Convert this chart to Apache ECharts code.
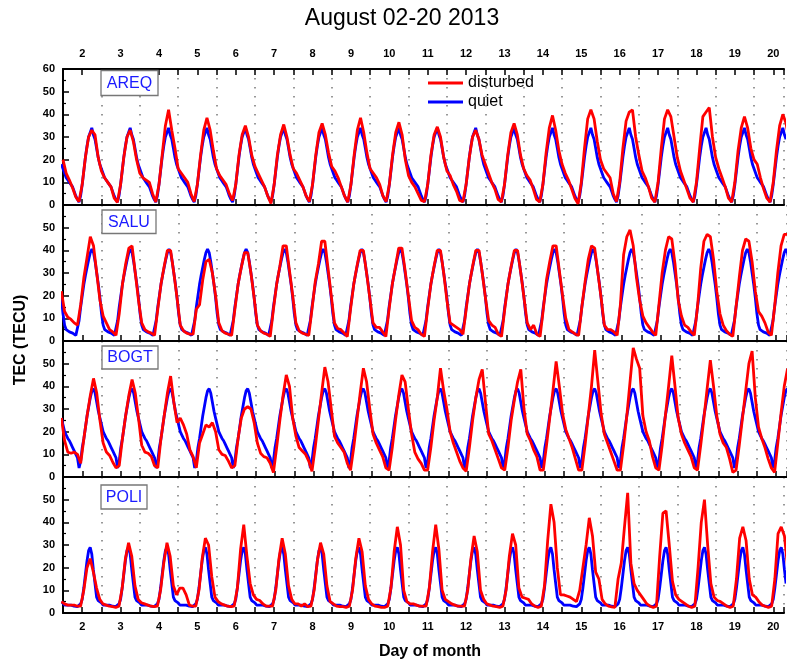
<!DOCTYPE html>
<html><head><meta charset="utf-8">
<script src="https://cdn.jsdelivr.net/npm/echarts@6/dist/echarts.min.js"></script>
<style>html,body{margin:0;padding:0;background:#fff}#c{width:787px;height:663px}</style>
</head><body><div id="c"></div>
<script>
// ---------------- data ----------------
const stations = ['AREQ', 'SALU', 'BOGT', 'POLI'];
const dayLabels = [2,3,4,5,6,7,8,9,10,11,12,13,14,15,16,17,18,19,20];
const tecLabels = [0,10,20,30,40,50,60];

// quiet reference: mean quiet-day TEC profile (hourly, 00..23 UT), repeated every day in the figure
const AREQ_QUIET = [9,15,21,26,30,32,34,31,29,25,21,18,16,14,12,11,10,9,8,6,4,2.5,1.3,4];
const SALU_QUIET = [20,25,29,32.5,36,39,40.5,39,35,30,25,19,12,7,5,4.5,4,3.5,3.5,3,2.5,3,9,15];
const BOGT_QUIET = [13,17,22,27,31,35,38,39,37,33,29,26,23,20,18.5,17,16,14.5,13,11.5,10,8.5,4,7];
const POLI_QUIET = [6,11,17,23,27.5,29,26,19,13,7,5.5,5,4.5,3.5,4,3.5,4,3.5,3,3,2.8,2.8,3,4];

// disturbed TEC, every 2 hours; first sample hour counted from 00 UT Aug 1
const AREQ_START_HOUR = 12;
const AREQ_DIST = [
 20,14,11,7.5,3.5,1.5,
 9,21,30,33,31,21,15,12,10,8,3,1.2,
 9,21,30,33,28,20,14,12,11,10,5,1.3,
 9,22,35,42,33,25,16,14,12,10,5,1.5,
 9,22,33,38.5,33,24,16,13,11,9,5,2,
 9,22,31,35,30,22,17,14,11,8,4,0.7,
 9,22,31,35.5,30,22,16,14,11,8,4,1.5,
 9,22,32,36,31,23,17,15,12,8,4,1.3,
 9,22,33,38.5,32,23,16,14,12,9,4,1.5,
 9,22,32,36.5,31,20,13,10,8,5,2,1.5,
 9,22,31,34.5,30,21,15,13,9,6,2,1.5,
 9,21,30,33,29,22,18,14,10,7,2.5,1.3,
 9,22,32,36,31,22,16,13,11,7,2.5,1.3,
 9,23,34,39.5,33,24,18,14,11,7,3,0.5,
 10,25,38,42,38,28,20,16,14,12,5,1.5,
 10,25,37,41,42,30,22,15,12,8,3,1.3,
 10,25,38,42,39,30,21,15,11,7,3,1.3,
 10,25,39,41,43,30,21,16,12,8,3,1.3,
 10,24,34,39,34,25,20,18,12,7,3,1.3,
 10,24,35,40,36,28
];
const SALU_START_HOUR = 11;
const SALU_DIST = [
 22,13,10.5,9.5,8,7,16,
 28,37,46,42,30,18,11,8,5,4,2.5,12,
 25,34,41,42,30,18,8,5,4,3.5,2.5,14,
 25,33,40,40,30,19,7,4.5,3.5,3,3,14,
 16,27,35,36,30,20,8,4.5,3.5,3,2.5,14,
 25,32.5,39,39,30,19,7,4.5,3.5,3,2,14,
 25,33,42,42,31,20,8,4.5,3.5,3,2.5,14,
 26,34,44,44,32,20,8,5.5,5,3.5,2,14,
 25,33,40,40,30,19,8,6,6,4,2,14,
 25,33,41,41,31,20,9,6,5,3,2,14,
 25,33,40,40,30,18,8,7,6,5,3,14,
 25,33,40,40,30,19,9,7,6,3,2,14,
 25,33,40,40,30,19,8,5,7,3,2,14,
 27,35,42,42,31,20,10,5,4,3,2.5,15,
 26,36,42,41,30,19,7,5,5,4,2.5,16,
 38,46,49,42,28,18,11,8,6,4,2.5,16,
 30,40,46,45,34,18,11,7,6,4,2.5,15,
 32,44,47,46,36,22,12,7,4.5,3,2,15,
 28,40,45,44,35,22,13,11,8,4,2.5,15,
 30,42,47,47,44
];
const BOGT_START_HOUR = 11;
const BOGT_DIST = [
 26,16,11,10.5,11,10,6,
 17,27,36,43.5,37,25,15,11,9.5,6.5,4,5,
 17,27,36,43,37,26,14,11,10.5,9,5,4,
 17,27,37,44.5,33,24,26,23,19,12,9,4,
 15,19,23,22,24,20,12,10,9.5,7,4,5,
 17,26,30,31,30,24,15,10.5,9,8.5,6,2,
 13,25,36,45,40,26,18,13,11.5,10,7,2.5,
 13,25,37,48.5,42,30,18,15,13,11,6,3,
 13,25,37,48,42,30,19,15,12,9,4,3,
 13,25,36,45,42,30,19,11,8,6,3,3,
 13,25,35,48,38,30,20,15,11,7,4,2.5,
 13,25,35,43,47.5,33,19,16,12,8,4,3,
 13,25,34,42,47.5,30,19,16,12,9,3,3,
 14,26,38,51,40,28,21,17,13,8,3,3,
 14,27,40,56,42,28,19,15,11,7,3,3,
 14,27,42,57,52,48,27,20,16,9,4,3,
 14,27,40,53.5,40,26,19,15,12,9,4,3,
 14,26,39,51.5,40,27,19,15,13,8,2,3,
 14,26,38,50,55.5,35,22,17,13,8,4,2,
 15,28,40,47.5,48
];
const POLI_START_HOUR = 11;
const POLI_DIST = [
 5,4,3.5,3.5,3.5,3,3,
 10,20,24,18,11,6,4,3.5,3,2.8,2.5,3,
 11,24,31,25,12,6,4.5,4,3.5,3,2.8,3,
 10,22,31,25,12,8,11,11,8,3.5,3,3,
 10,24,33,30,16,7,5,4,3.5,3,2.8,3,
 11,28,39,25,13,8,6,5.5,4,3,3,3,
 10,24,33,26,12,6,4,4,3,4,2.8,3,
 10,23,31,26,12,5,4,3,2.8,2.8,2.5,3,
 10,24,33,27,12,6,4,3,2.8,2.5,2.5,3,
 11,27,38,30,10,5,4,4,3.5,3,3,3,
 11,27,39,28,10,6,5,4,3.5,3,3,3,
 10,24,34,27,10,6,4,3.5,3,2.8,2.5,3,
 10,25,35,30,11,7,6.5,6,4,3,2.5,3,
 12,32,48,40,20,8,8,7.5,7,6,5,10,
 20,30,42,34,18,15,6,4,3,2.7,2.5,15,
 22,38,53,22,13,10,8,6,4,3,2.5,3,
 25,44,45,30,14,8,6,5,4,3,2.5,3,
 20,40,50,30,13,7,5.5,5,4,3,2.5,3,
 15,33,38,32,15,8,7,5,3.5,3,2.5,3,
 15,35,38,34,20
];

const QUIET = [AREQ_QUIET, SALU_QUIET, BOGT_QUIET, POLI_QUIET];
const DIST = [AREQ_DIST, SALU_DIST, BOGT_DIST, POLI_DIST];
const START = [AREQ_START_HOUR, SALU_START_HOUR, BOGT_START_HOUR, POLI_START_HOUR];

// ---------------- chart ----------------
const FONT = '"Liberation Sans", Arial, Helvetica, sans-serif';
const X_MIN = 1.5, X_MAX = 20.28;
const tops = [69, 205, 341, 477];
const PANEL_H = 136;

function quietPoints(profile) {
  const pts = [];
  for (let d = 1; d <= 20; d++) {
    for (let h = 0; h < 24; h++) {
      const x = d + h / 24;
      if (x >= 1.45 && x <= 20.35) pts.push([x, profile[h]]);
    }
  }
  return pts;
}
function distPoints(arr, startHour) {
  return arr.map((v, i) => [1 + (startHour + 2 * i) / 24, v]);
}
const isDayLabel = v => dayLabels.indexOf(Math.round(v * 1000) / 1000) >= 0;

const grid = tops.map(t => ({ left: 63, right: 0, top: t, height: PANEL_H }));
const xAxis = [];
const yAxis = [];
const series = [];
const axisLineStyle = { color: '#000', width: 2 };

stations.forEach((s, i) => {
  xAxis.push({
    gridIndex: i, type: 'value', position: 'bottom', min: X_MIN, max: X_MAX, interval: 0.5,
    axisLine: { show: true, onZero: false, lineStyle: axisLineStyle },
    axisTick: { show: true, inside: true, length: 6, lineStyle: { color: '#000', width: 1.5 } },
    axisLabel: { show: i === 3, margin: 8, fontSize: 11, fontWeight: 'bold', color: '#000', fontFamily: FONT,
      formatter: v => isDayLabel(v) ? String(Math.round(v)) : '' },
    splitLine: { show: false }
  });
  yAxis.push({
    gridIndex: i, type: 'value', min: 0, max: 60, interval: 10,
    axisLine: { show: true, onZero: false, lineStyle: axisLineStyle },
    axisTick: { show: true, inside: true, length: 6, lineStyle: { color: '#000', width: 1.5 } },
    minorTick: { show: true, splitNumber: 2, length: 3, lineStyle: { color: '#000', width: 1.2 } },
    axisLabel: { margin: 8, fontSize: 11, fontWeight: 'bold', color: '#000', fontFamily: FONT,
      formatter: v => (i > 0 && v === tecLabels[tecLabels.length - 1]) ? '' : String(v) },
    splitLine: { show: false }
  });
});
// dotted day-boundary guides (x.5)
stations.forEach((s, i) => {
  xAxis.push({
    gridIndex: i, type: 'value', position: 'bottom', min: X_MIN, max: X_MAX, interval: 1,
    axisLine: { show: false }, axisTick: { show: false }, axisLabel: { show: false },
    splitLine: { show: true, lineStyle: { color: '#777', width: 1.5, type: [1.5, 7.5] } }
  });
});
// top axis with day labels
xAxis.push({
  gridIndex: 0, type: 'value', position: 'top', min: X_MIN, max: X_MAX, interval: 0.5,
  axisLine: { show: true, onZero: false, lineStyle: axisLineStyle },
  axisTick: { show: true, inside: true, length: 6, lineStyle: { color: '#000', width: 1.5 } },
  axisLabel: { show: true, margin: 10, fontSize: 11, fontWeight: 'bold', color: '#000', fontFamily: FONT,
    formatter: v => isDayLabel(v) ? String(Math.round(v)) : '' },
  splitLine: { show: false }
});

stations.forEach((s, i) => {
  series.push({
    name: 'quiet', type: 'line', xAxisIndex: i, yAxisIndex: i, data: quietPoints(QUIET[i]),
    showSymbol: false, symbol: 'none', lineStyle: { color: '#0000ff', width: 2.8 }, itemStyle: { color: '#0000ff' },
    z: 3
  });
  series.push({
    name: 'disturbed', type: 'line', xAxisIndex: i, yAxisIndex: i, data: distPoints(DIST[i], START[i]),
    showSymbol: false, symbol: 'none', lineStyle: { color: '#ff0000', width: 2.8 }, itemStyle: { color: '#ff0000' },
    z: 4
  });
});

const boxes = [
  { x: 101, y: 70.5, w: 57, h: 25 },
  { x: 102, y: 210, w: 54, h: 23.5 },
  { x: 102, y: 346, w: 56, h: 23 },
  { x: 101, y: 485, w: 46, h: 24 }
];
const graphic = [];
stations.forEach((s, i) => {
  const b = boxes[i];
  graphic.push({ type: 'rect', shape: { x: b.x, y: b.y, width: b.w, height: b.h },
    style: { fill: '#fff', stroke: '#777', lineWidth: 1.3 }, z: 100 });
  graphic.push({ type: 'text', x: b.x + b.w / 2, y: b.y + b.h / 2 + 0.5,
    style: { text: s, fill: '#1a1aff', font: '16px ' + FONT, textAlign: 'center', textVerticalAlign: 'middle' }, z: 101 });
});
graphic.push({ type: 'text', x: 402, y: 19,
  style: { text: 'August 02-20 2013', fill: '#000', font: '23px ' + FONT, textAlign: 'center', textVerticalAlign: 'middle' } });
graphic.push({ type: 'text', x: 430, y: 652,
  style: { text: 'Day of month', fill: '#000', font: 'bold 16px ' + FONT, textAlign: 'center', textVerticalAlign: 'middle' } });
graphic.push({ type: 'text', x: 21, y: 340, rotation: Math.PI / 2,
  style: { text: 'TEC (TECU)', fill: '#000', font: 'bold 16px ' + FONT, textAlign: 'center', textVerticalAlign: 'middle' } });

const chart = echarts.init(document.getElementById('c'), null, { renderer: 'canvas' });
chart.setOption({
  animation: false,
  backgroundColor: '#fff',
  grid, xAxis, yAxis, series, graphic,
  legend: {
    data: ['disturbed', 'quiet'], orient: 'vertical', left: 428, top: 75, padding: 0,
    itemWidth: 35, itemHeight: 3, itemGap: 3, icon: 'rect', selectedMode: false,
    textStyle: { fontSize: 16, color: '#000', fontFamily: FONT }
  }
});
</script></body></html>
